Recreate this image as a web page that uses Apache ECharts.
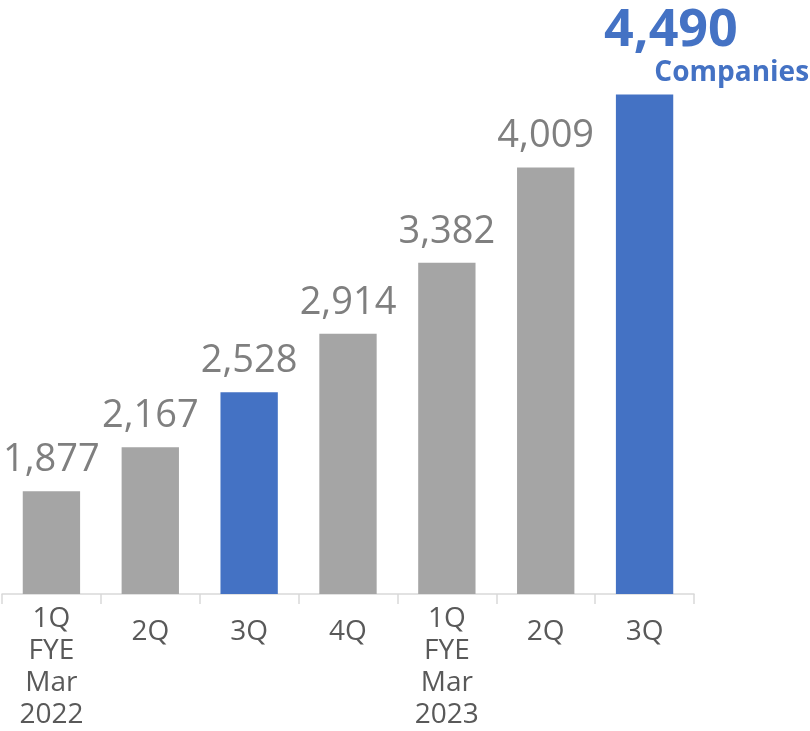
<!DOCTYPE html>
<html>
<head>
<meta charset="utf-8">
<script src="https://cdn.jsdelivr.net/npm/echarts@6/dist/echarts.min.js"></script>
<style>
  html, body { margin: 0; padding: 0; background: #ffffff; }
  #chart { width: 810px; height: 731px; }
</style>
</head>
<body>
<div id="chart"></div>
<script>
// Quarterly company counts
const categories = ['1Q\nFYE\nMar\n2022', '2Q', '3Q', '4Q', '1Q\nFYE\nMar\n2023', '2Q', '3Q'];
const companies = [1877, 2167, 2528, 2914, 3382, 4009, 4490];
const highlighted = [2, 6];      // third quarters shown in blue
const unitLabel = 'Companies';

const GRAY = '#a5a5a5';
const BLUE = '#4472c4';
const FONT = '"Open Sans", "Noto Sans", sans-serif';

const fmt = v => v.toLocaleString('en-US');
const last = companies.length - 1;

const barData = companies.map((v, i) => {
  const item = {
    value: v,
    itemStyle: { color: highlighted.includes(i) ? BLUE : GRAY }
  };
  if (i === last) {
    item.label = {
      formatter: '{v|' + fmt(v) + '}\n{u|' + unitLabel + '}',
      width: 205,
      offset: [62, 3],
      distance: 8,
      rich: {
        v: { fontFamily: FONT, fontSize: 52, fontWeight: 'bold', color: BLUE, align: 'left', lineHeight: 52 },
        u: { fontFamily: FONT, fontSize: 28, fontWeight: 'bold', color: BLUE, align: 'right', lineHeight: 32 }
      }
    };
  }
  return item;
});

const chart = echarts.init(document.getElementById('chart'), null, { renderer: 'canvas' });
chart.setOption({
  animation: false,
  grid: { left: 2, right: 116, top: 17, bottom: 134, containLabel: false },
  xAxis: {
    type: 'category',
    data: categories,
    axisLine: { lineStyle: { color: '#d9d9d9', width: 1.5 } },
    axisTick: { show: true, length: 10, lineStyle: { color: '#d9d9d9', width: 1.5 } },
    axisLabel: {
      interval: 0,
      margin: 9,
      fontFamily: FONT,
      fontSize: 28,
      lineHeight: 32,
      color: '#595959',
      formatter: v => v.includes('\n') ? v : '{s|' + v + '}',
      rich: {
        s: { fontFamily: FONT, fontSize: 28, lineHeight: 32, color: '#595959', padding: [26, 0, 0, 0] }
      }
    }
  },
  yAxis: {
    type: 'value',
    min: 1200,
    max: 5000,
    show: false,
    splitLine: { show: false }
  },
  series: [{
    type: 'bar',
    data: barData,
    barCategoryGap: '42%',
    label: {
      show: true,
      position: 'top',
      distance: 12,
      fontFamily: FONT,
      fontSize: 38,
      color: '#7f7f7f',
      formatter: p => fmt(p.value)
    }
  }]
});
</script>
</body>
</html>
